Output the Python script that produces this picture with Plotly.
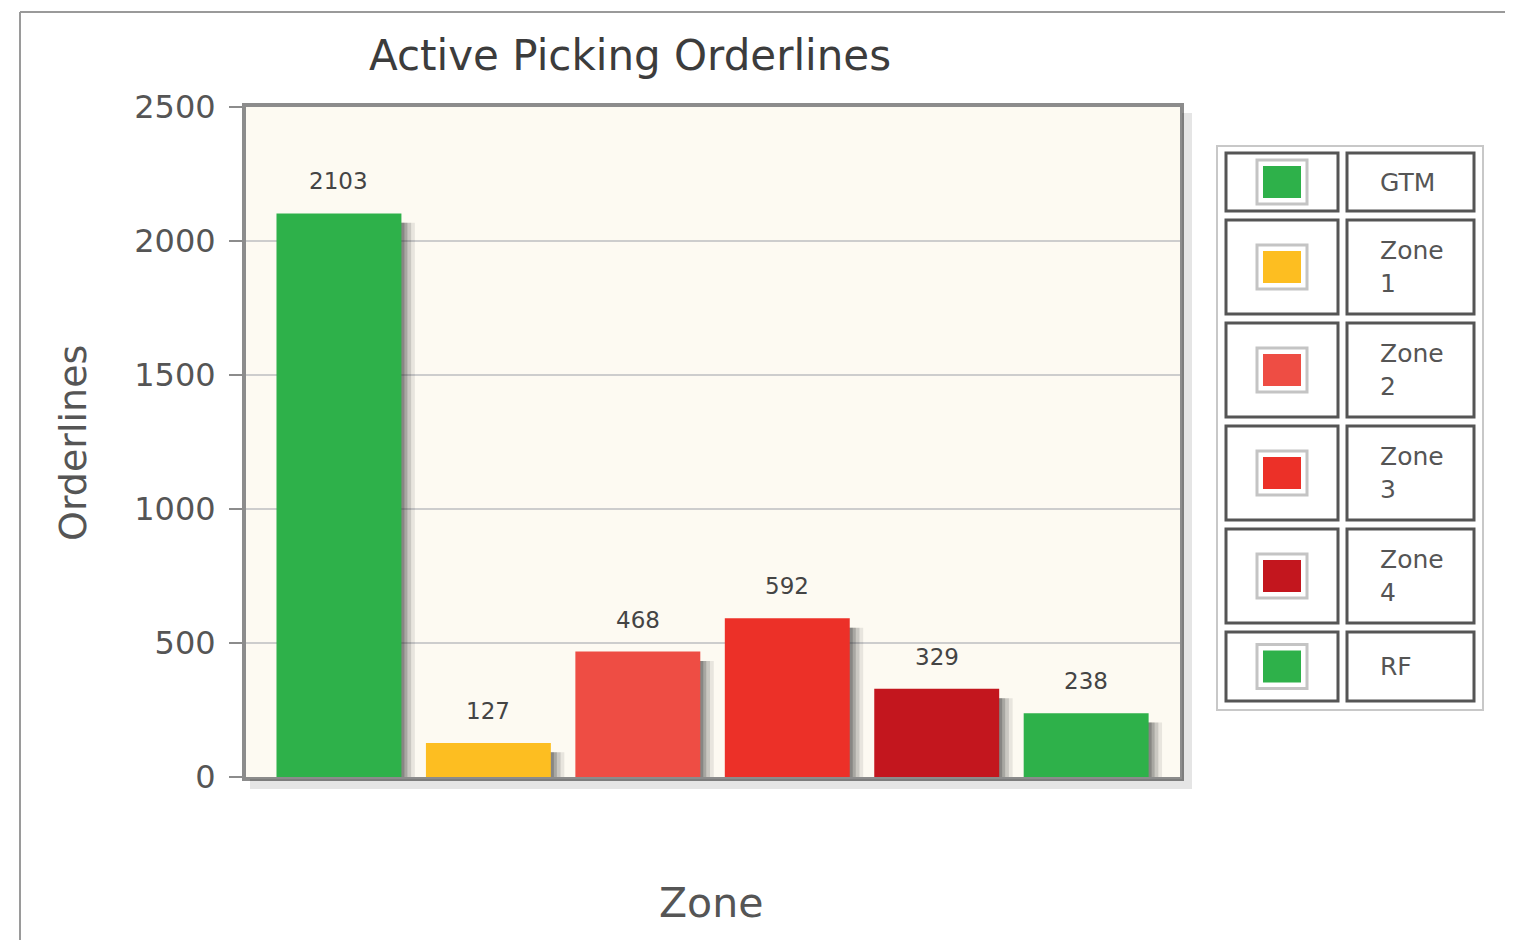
import plotly.graph_objects as go

# ---------------- data ----------------
categories = ["GTM", "Zone 1", "Zone 2", "Zone 3", "Zone 4", "RF"]
legend_labels = ["GTM", "Zone<br>1", "Zone<br>2", "Zone<br>3", "Zone<br>4", "RF"]
values = [2103, 127, 468, 592, 329, 238]
colors = ["#2EB14A", "#FDBE21", "#EE4D44", "#EC3028", "#C3161E", "#2EB14A"]
y_ticks = [0, 500, 1000, 1500, 2000, 2500]

# ---------------- layout constants (reference pixels) ----------------
W, H = 1513, 940
BODY = 8  # default page body margin
L, R, T, B = 246, 1180, 107, 777
FONT = "DejaVu Sans"


def px(x):
    return (x - L) / (R - L)


def py(y):
    return (B - y) / (B - T)


BAR_W = 0.836
fig = go.Figure()

# bar shadows
for sh_off, alpha in [(0.09, 0.10), (0.065, 0.16), (0.04, 0.22), (0.02, 0.28)]:
    fig.add_trace(go.Bar(
        x=categories, y=[v - 35 for v in values], base=0,
        width=BAR_W, offset=-BAR_W / 2 + sh_off,
        marker=dict(color=f"rgba(50,50,50,{alpha})", line=dict(width=0)),
        hoverinfo="skip", showlegend=False,
    ))

# main bars
fig.add_trace(go.Bar(
    x=categories, y=values, width=BAR_W, offset=-BAR_W / 2,
    marker=dict(color=colors, line=dict(width=0)),
    showlegend=False,
))

# value labels
for c, v in zip(categories, values):
    fig.add_annotation(x=c, y=v, text=str(v), showarrow=False,
                       yanchor="middle", yshift=32,
                       font=dict(family=FONT, size=23, color="#444444"))

shapes = []
# outer frame lines
shapes.append(dict(type="line", xref="paper", yref="paper",
                   x0=px(20), x1=px(W + 5), y0=py(12), y1=py(12),
                   line=dict(color="#9a9a9a", width=2)))
shapes.append(dict(type="line", xref="paper", yref="paper",
                   x0=px(20), x1=px(20), y0=py(12), y1=py(H + 5),
                   line=dict(color="#9a9a9a", width=2)))
# plot-area shadow
shapes.append(dict(type="rect", xref="paper", yref="paper",
                   x0=px(R + 2), x1=px(R + 12), y0=py(B + 12), y1=py(T + 6),
                   fillcolor="rgba(0,0,0,0.10)", line=dict(width=0)))
shapes.append(dict(type="rect", xref="paper", yref="paper",
                   x0=px(L + 4), x1=px(R + 2), y0=py(B + 12), y1=py(B + 2),
                   fillcolor="rgba(0,0,0,0.10)", line=dict(width=0)))

# legend table
shapes.append(dict(type="rect", xref="paper", yref="paper",
                   x0=px(1217), x1=px(1483), y0=py(710), y1=py(146),
                   line=dict(color="#c8c8c8", width=2), fillcolor="white", layer="below"))
row_heights = [58, 94, 94, 94, 94, 69]
row_gap = 9
top = 153
annotations = []
for lab, col, h in zip(legend_labels, colors, row_heights):
    bot = top + h
    cy = (top + bot) / 2
    for x0, x1 in [(1226, 1338), (1347, 1474)]:
        shapes.append(dict(type="rect", xref="paper", yref="paper",
                           x0=px(x0), x1=px(x1), y0=py(bot), y1=py(top),
                           line=dict(color="#555555", width=3)))
    shapes.append(dict(type="rect", xref="paper", yref="paper",
                       x0=px(1257), x1=px(1307), y0=py(cy + 22), y1=py(cy - 22),
                       line=dict(color="#c4c4c4", width=3), fillcolor="white"))
    shapes.append(dict(type="rect", xref="paper", yref="paper",
                       x0=px(1263), x1=px(1301), y0=py(cy + 16), y1=py(cy - 16),
                       line=dict(width=0), fillcolor=col))
    annotations.append(dict(xref="paper", yref="paper", x=px(1378), y=py(cy),
                            text=lab, showarrow=False, xanchor="left", yanchor="middle",
                            align="left",
                            font=dict(family=FONT, size=25, color="#555555")))
    top = bot + row_gap

# titles
annotations.append(dict(xref="paper", yref="paper", x=px(630), y=py(55),
                        text="Active Picking Orderlines", showarrow=False,
                        xanchor="center", yanchor="middle",
                        font=dict(family=FONT, size=42, color="#3c3c3c")))
annotations.append(dict(xref="paper", yref="paper", x=px(711), y=py(903),
                        text="Zone", showarrow=False,
                        xanchor="center", yanchor="middle",
                        font=dict(family=FONT, size=41, color="#555555")))
annotations.append(dict(xref="paper", yref="paper", x=px(73), y=py(443),
                        text="Orderlines", showarrow=False, textangle=-90,
                        xanchor="center", yanchor="middle",
                        font=dict(family=FONT, size=38, color="#555555")))

for a in annotations:
    fig.add_annotation(**a)

fig.update_layout(
    width=W - BODY, height=H - BODY,
    margin=dict(l=L - BODY, r=W - R, t=T - BODY, b=H - B, pad=0),
    paper_bgcolor="white",
    plot_bgcolor="#FDFAF2",
    barmode="overlay",
    shapes=shapes,
    showlegend=False,
    xaxis=dict(
        type="category", categoryorder="array", categoryarray=categories,
        range=[-0.622, 5.628], showticklabels=False, ticks="",
        showgrid=False, zeroline=False,
        showline=True, mirror=True, linecolor="#8c8c8c", linewidth=4,
    ),
    yaxis=dict(
        range=[0, 2500], tickvals=y_ticks, ticktext=[str(t) for t in y_ticks],
        ticks="outside", ticklen=13, tickwidth=2, tickcolor="#8c8c8c",
        ticklabelstandoff=7,
        tickfont=dict(family=FONT, size=32, color="#555555"),
        showgrid=True, gridcolor="#cdcdcd", gridwidth=2,
        zeroline=False,
        showline=True, mirror=True, linecolor="#8c8c8c", linewidth=4,
    ),
)

fig.write_html("out.html")
